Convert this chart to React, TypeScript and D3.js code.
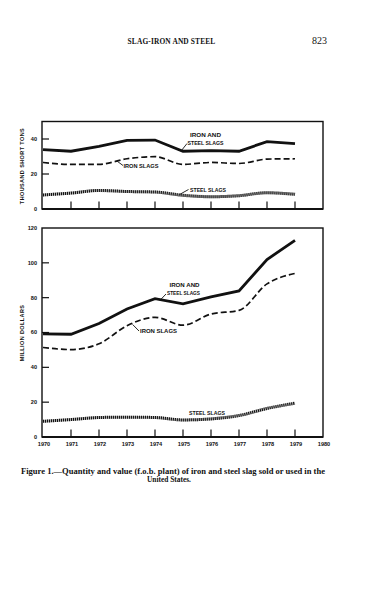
import React from "react";
import * as d3 from "d3";

const years = [1970, 1971, 1972, 1973, 1974, 1975, 1976, 1977, 1978, 1979];

// Quantity, thousand short tons
const qtyTotal = [33.9, 33.0, 35.8, 39.2, 39.4, 33.0, 33.3, 33.0, 38.5, 37.3];
const qtyIron = [26.6, 25.5, 25.5, 28.7, 29.9, 25.5, 26.6, 26.0, 28.5, 28.7];
const qtySteel = [8.0, 9.1, 10.6, 10.0, 9.7, 7.8, 7.0, 7.6, 9.3, 8.4];

// Value, million dollars
const valTotal = [59.2, 59.0, 65.2, 73.5, 79.4, 76.4, 80.4, 83.9, 101.9, 112.9];
const valIron = [51.4, 50.2, 53.5, 63.9, 68.7, 64.2, 70.6, 72.7, 87.9, 93.9];
const valSteel = [9.0, 10.0, 11.2, 11.4, 11.2, 9.8, 10.4, 12.3, 16.4, 19.4];

const topTicks = [0, 20, 40];
const bottomTicks = [0, 20, 40, 60, 80, 100, 120];
const yearLabels = [1970, 1971, 1972, 1973, 1974, 1975, 1976, 1977, 1978, 1979, 1980];

const LEFT = 43;
const RIGHT = 323;
const SANS = "'Liberation Sans', Arial, sans-serif";
const SERIF = "'Liberation Serif', 'Times New Roman', serif";

const x = d3.scaleLinear().domain([1970, 1980]).range([LEFT, RIGHT]);
const yTop = d3.scaleLinear().domain([0, 50]).range([209, 121.5]);
const yBot = d3.scaleLinear().domain([0, 120]).range([437, 228]);

type Series = { values: number[]; kind: "solid" | "dashed" | "dotted" };

function makePath(values: number[], y: d3.ScaleLinear<number, number>, kind: string) {
  const gen = d3
    .line<number>()
    .x((_, i) => x(years[i]))
    .y((v) => y(v))
    .curve(kind === "solid" ? d3.curveLinear : d3.curveMonotoneX);
  return gen(values) || "";
}

function SeriesPath({ s, y }: { s: Series; y: d3.ScaleLinear<number, number> }) {
  const d = makePath(s.values, y, s.kind);
  if (s.kind === "solid")
    return <path d={d} fill="none" stroke="#111" strokeWidth={2.8} strokeLinejoin="miter" />;
  if (s.kind === "dashed")
    return <path d={d} fill="none" stroke="#111" strokeWidth={1.7} strokeDasharray="6 3" />;
  return (
    <g>
      <path d={d} fill="none" stroke="#666" strokeWidth={3} opacity={0.45} />
      <path d={d} fill="none" stroke="#111" strokeWidth={3} strokeDasharray="1.1 0.9" />
    </g>
  );
}

type Label = {
  lines: string[];
  lx: number;
  ly: number;
  widths: number[];
  anchor?: [number, number];
  leaderEnd?: [number, number];
};

function Annotation({ a, y }: { a: Label; y: d3.ScaleLinear<number, number> }) {
  return (
    <g>
      {a.lines.map((t, i) => (
        <text
          key={i}
          x={a.lx + (i === 0 && a.lines.length > 1 ? 2.5 : 0)}
          y={a.ly + i * 7.8}
          fontFamily={SANS}
          fontWeight="bold"
          fontSize={5.6}
          textLength={a.widths[i]}
          lengthAdjust="spacingAndGlyphs"
          fill="#111"
        >
          {t}
        </text>
      ))}
      {a.anchor && a.leaderEnd && (
        <line
          x1={x(a.anchor[0])}
          y1={y(a.anchor[1])}
          x2={a.leaderEnd[0]}
          y2={a.leaderEnd[1]}
          stroke="#111"
          strokeWidth={0.9}
        />
      )}
    </g>
  );
}

function Panel({
  y,
  ticks,
  series,
  labels,
  showYears,
  title,
  titleY,
}: {
  y: d3.ScaleLinear<number, number>;
  ticks: number[];
  series: Series[];
  labels: Label[];
  showYears: boolean;
  title: string;
  titleY: number;
}) {
  const [y0, y1] = y.range();
  return (
    <g>
      <rect x={LEFT - 1} y={y1} width={RIGHT - LEFT + 1} height={y0 - y1} fill="none" stroke="#111" strokeWidth={1.4} />
      <line x1={LEFT - 1} x2={RIGHT} y1={y0} y2={y0} stroke="#111" strokeWidth={2} />
      {ticks.map((t) => (
        <g key={t}>
          {t !== 0 && y(t) > y1 + 1 && (
            <line x1={LEFT - 1} x2={LEFT + 6} y1={y(t)} y2={y(t)} stroke="#111" strokeWidth={1.2} />
          )}
          <text
            x={37}
            y={y(t)}
            dy="0.35em"
            textAnchor="end"
            fontFamily={SANS}
            fontWeight="bold"
            fontSize={5.6}
            fill="#111"
          >
            {t}
          </text>
        </g>
      ))}
      {years.slice(1).map((yr) => (
        <line key={yr} x1={x(yr)} x2={x(yr)} y1={y0} y2={y0 - 7.5} stroke="#111" strokeWidth={1.2} />
      ))}
      {showYears &&
        yearLabels.map((yr) => (
          <text
            key={yr}
            x={x(yr) + 1}
            y={y0 + 8.5}
            textAnchor="middle"
            fontFamily={SANS}
            fontWeight="bold"
            fontSize={5.6}
            fill="#111"
          >
            {yr}
          </text>
        ))}
      {series.map((s, i) => (
        <SeriesPath key={i} s={s} y={y} />
      ))}
      {labels.map((a, i) => (
        <Annotation key={i} a={a} y={y} />
      ))}
      <text
        transform={`translate(23.5,${titleY}) rotate(-90)`}
        textAnchor="middle"
        fontFamily={SANS}
        fontWeight="bold"
        fontSize={5.5}
        letterSpacing={0.4}
        fill="#111"
      >
        {title}
      </text>
    </g>
  );
}

export default function App() {
  const topSeries: Series[] = [
    { values: qtyTotal, kind: "solid" },
    { values: qtyIron, kind: "dashed" },
    { values: qtySteel, kind: "dotted" },
  ];
  const botSeries: Series[] = [
    { values: valTotal, kind: "solid" },
    { values: valIron, kind: "dashed" },
    { values: valSteel, kind: "dotted" },
  ];
  const topLabels: Label[] = [
    { lines: ["IRON AND", "STEEL SLAGS"], lx: 187.5, ly: 137, widths: [31, 36], anchor: [1974.93, 33.1], leaderEnd: [187, 143.5] },
    { lines: ["IRON SLAGS"], lx: 123.5, ly: 167.5, widths: [35], anchor: [1972.65, 27.3], leaderEnd: [123, 165.5] },
    { lines: ["STEEL SLAGS"], lx: 190, ly: 191.5, widths: [36], anchor: [1974.88, 8.3], leaderEnd: [188.5, 189.5] },
  ];
  const botLabels: Label[] = [
    { lines: ["IRON AND", "STEEL SLAGS"], lx: 167, ly: 287, widths: [30, 33], anchor: [1974.18, 78.5], leaderEnd: [166, 294] },
    { lines: ["IRON SLAGS"], lx: 140, ly: 333, widths: [37], anchor: [1973.2, 64.6], leaderEnd: [139, 331] },
    { lines: ["STEEL SLAGS"], lx: 189, ly: 415, widths: [36] },
  ];
  return (
    <svg width={380} height={600} style={{ position: "absolute", left: 0, top: 0, background: "#fff" }}>
      <rect width={380} height={600} fill="#fff" />
      <text x={171.5} y={44} textAnchor="middle" fontFamily={SERIF} fontWeight="bold" fontSize={7.4} letterSpacing={0.15} fill="#111">
        SLAG-IRON AND STEEL
      </text>
      <text x={312} y={43.5} fontFamily={SERIF} fontSize={10} fill="#111">
        823
      </text>
      <Panel y={yTop} ticks={topTicks} series={topSeries} labels={topLabels} showYears={false} title="THOUSAND SHORT TONS" titleY={166} />
      <Panel y={yBot} ticks={bottomTicks} series={botSeries} labels={botLabels} showYears={true} title="MILLION DOLLARS" titleY={333} />
      <text x={21} y={473.5} fontFamily={SERIF} fontWeight="bold" fontSize={7.4} textLength={304} lengthAdjust="spacingAndGlyphs" fill="#111">
        Figure 1.—Quantity and value (f.o.b. plant) of iron and steel slag sold or used in the
      </text>
      <text x={169} y={481.5} textAnchor="middle" fontFamily={SERIF} fontWeight="bold" fontSize={7.4} fill="#111">
        United States.
      </text>
    </svg>
  );
}
